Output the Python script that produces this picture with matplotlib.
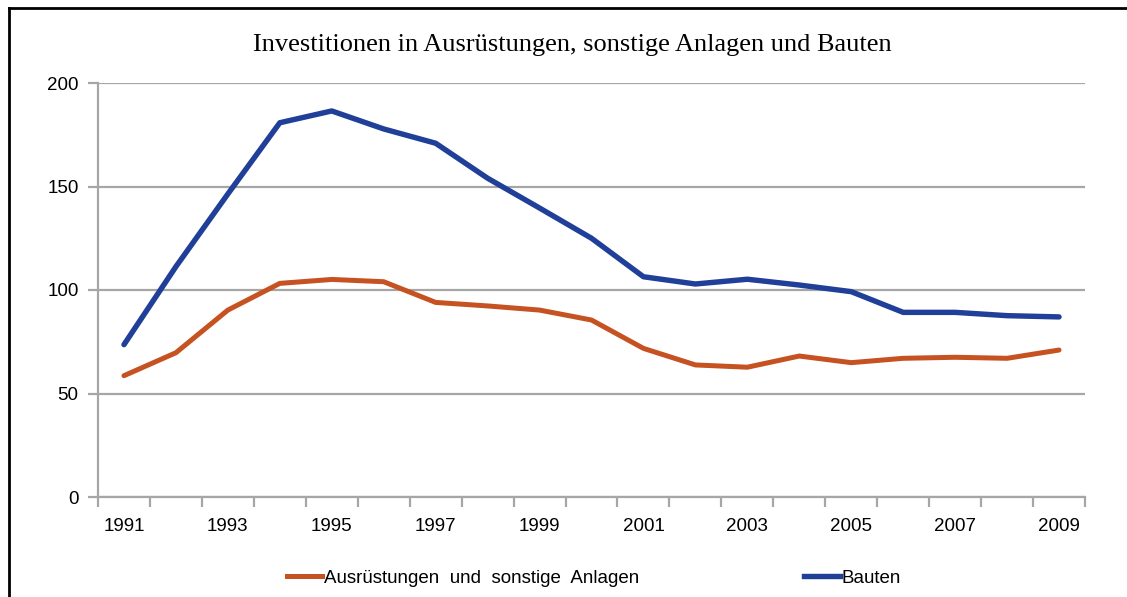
import matplotlib.pyplot as plt
import numpy as np
from matplotlib.lines import Line2D

years = list(range(1991, 2010))
ausruestungen = [58.6, 69.7, 90.3, 103.2, 105.1, 104.0, 94.0, 92.3, 90.3, 85.5,
                 71.8, 63.8, 62.7, 68.1, 64.9, 67.0, 67.5, 67.0, 71.0]
bauten = [73.6, 111.3, 146.4, 180.8, 186.5, 177.8, 170.9, 154.0, 139.6, 125.0,
          106.4, 102.9, 105.2, 102.4, 99.2, 89.2, 89.2, 87.6, 87.0]
yticks = [0, 50, 100, 150, 200]

plt.rcParams['font.family'] = ['Liberation Sans', 'DejaVu Sans']

fig = plt.figure(figsize=(11.27, 5.97), dpi=100)
ax = fig.add_axes([98/1127, 100/597, (1085-98)/1127, (497-83)/597])

grid_col = '#A6A6A6'
x = np.arange(len(years))
ax.plot(x, ausruestungen, color='#C65221', lw=3.6, solid_capstyle='round', zorder=3)
ax.plot(x, bauten, color='#203F98', lw=3.9, solid_capstyle='round', zorder=4)

ax.set_xlim(-0.5, len(years) - 0.5)
ax.set_ylim(0, 200)
ax.set_yticks(yticks)
ax.set_yticklabels([str(v) for v in yticks], fontsize=13.5)
ax.yaxis.grid(True, color=grid_col, lw=1.6)
ax.set_axisbelow(True)

ax.set_xticks(x[::2])
ax.set_xticklabels([str(y) for y in years[::2]], fontsize=13.5)
ax.set_xticks(np.arange(-0.5, len(years)), minor=True)
ax.tick_params(axis='x', which='major', length=0, pad=15)
ax.tick_params(axis='x', which='minor', length=7, width=1.6, color=grid_col, direction='out')
ax.tick_params(axis='y', length=7, width=1.6, color=grid_col, pad=7)

for s in ['top', 'right']:
    ax.spines[s].set_visible(False)
for s in ['left', 'bottom']:
    ax.spines[s].set_color(grid_col)
    ax.spines[s].set_linewidth(1.6)

fig.text(572/1127, 1 - 45/597, 'Investitionen in Ausrüstungen, sonstige Anlagen und Bauten',
         family=['Liberation Serif', 'DejaVu Serif'], fontsize=19, ha='center', va='center')

handles = [Line2D([], [], color='#C65221', lw=3.6),
           Line2D([], [], color='#203F98', lw=3.9)]
fig.legend(handles, ['Ausrüstungen  und  sonstige  Anlagen', 'Bauten'],
           loc='center', bbox_to_anchor=(594/1127, 1 - 578/597), ncol=2, frameon=False,
           fontsize=13.5, handlelength=1.9, handletextpad=0.1, columnspacing=8.8)

# outer frame (left and top edges)
fig.add_artist(Line2D([9/1127, 9/1127], [0, 1 - 8/597], color='black', lw=2, transform=fig.transFigure))
fig.add_artist(Line2D([9/1127, 1], [1 - 8/597, 1 - 8/597], color='black', lw=2, transform=fig.transFigure))

fig.savefig('out.png', dpi=100)
